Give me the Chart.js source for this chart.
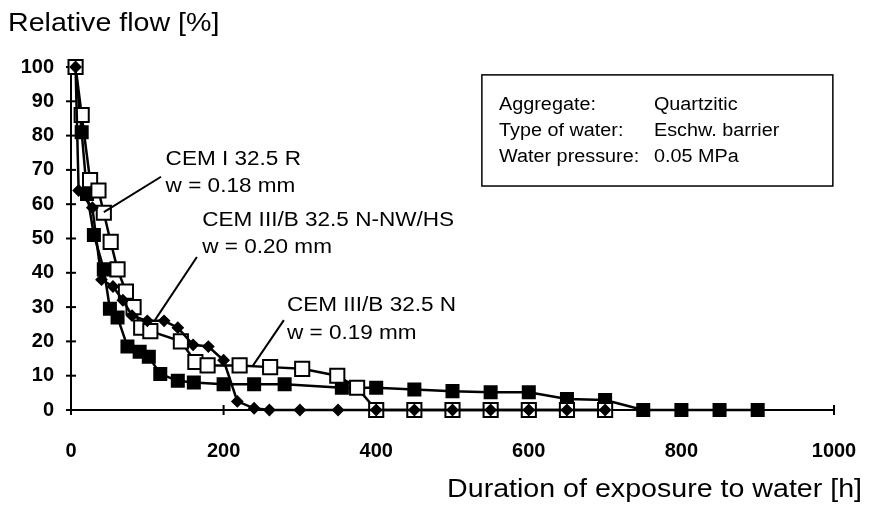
<!DOCTYPE html>
<html>
<head>
<meta charset="utf-8">
<script src="https://cdn.jsdelivr.net/npm/chart.js@4.4.0/dist/chart.umd.min.js"></script>
<style>
  html, body { margin: 0; padding: 0; background: #fff; }
</style>
</head>
<body>
<canvas id="chart" width="869" height="510"></canvas>
<script>
// exposure time [h] and relative flow [%] for each cement
const cemIHours = [6, 14, 25, 36, 43, 52, 61, 72, 82, 92, 104, 144, 163, 179, 221, 261, 303, 349, 375, 400, 450, 500, 550, 600, 650, 700]
const cemIFlow = [100, 86, 67, 64, 57.5, 49, 41, 34.5, 30, 24, 23, 20, 14, 13, 13, 12.5, 12, 10, 6.5, 0, 0, 0, 0, 0, 0, 0]

const cemIIINwHours = [6, 10, 28, 40, 55, 68, 80, 100, 122, 140, 160, 180, 200, 218, 240, 260, 300, 350, 400, 450, 500, 550, 600, 650, 700]
const cemIIINwFlow = [100, 64, 59, 38, 36, 32, 27.5, 26, 26, 24, 19, 18.5, 14.5, 2.5, 0.5, 0, 0, 0, 0, 0, 0, 0, 0, 0, 0]

const cemIIINHours = [6, 14, 21, 30, 43, 51, 61, 74, 90, 102, 117, 140, 161, 200, 240, 280, 355, 400, 450, 500, 550, 600, 650, 700, 750, 800, 850, 900]
const cemIIINFlow = [100, 81, 63, 51, 41, 29.5, 27, 18.5, 17, 15.5, 10.5, 8.5, 8, 7.5, 7.5, 7.5, 6.5, 6.5, 6, 5.5, 5.2, 5.2, 3.2, 2.9, 0, 0, 0, 0]

const xTicks = [0, 200, 400, 600, 800, 1000]
const yTicks = [0, 10, 20, 30, 40, 50, 60, 70, 80, 90, 100]

// curve labels: text lines, text anchor and leader line, all in data units
const curveLabels = [
    { lines: ['CEM I 32.5 R', 'w = 0.18 mm'], at: [124, 73.2, 65.3], leader: [118, 68, 43, 57.7] },
    { lines: ['CEM III/B 32.5 N-NW/HS', 'w = 0.20 mm'], at: [172, 55.4, 47.5], leader: [165, 44.6, 110, 26.2] },
    { lines: ['CEM III/B 32.5 N', 'w = 0.19 mm'], at: [283, 30.6, 22.4], leader: [279, 26.2, 238, 12.8] }
]
const infoRows = [['Aggregate:', 'Quartzitic'], ['Type of water:', 'Eschw. barrier'], ['Water pressure:', '0.05 MPa']]

const FONT = '"Liberation Sans", Arial, Helvetica, sans-serif'
const SX = 1.1 // text in the original is slightly wide

function toPoints(xs, ys) {
    return xs.map((x, i) => ({ x: x, y: ys[i] }))
}

function wideText(ctx, text, x, y) {
    ctx.save()
    ctx.translate(x, y)
    ctx.scale(SX, 1)
    ctx.fillText(text, 0, 0)
    ctx.restore()
}

const decorations = {
    id: 'decorations',
    beforeDatasetsDraw(chart) {
        const ctx = chart.ctx
        const xs = chart.scales.x
        const ys = chart.scales.y
        const y0 = ys.getPixelForValue(0)
        const x0 = xs.getPixelForValue(0)
        ctx.save()
        ctx.strokeStyle = '#000'
        ctx.lineWidth = 2
        // small crossing tick marks on both axes
        yTicks.forEach(v => {
            const py = ys.getPixelForValue(v)
            ctx.beginPath(); ctx.moveTo(x0 - 5, py); ctx.lineTo(x0 + 5, py); ctx.stroke()
        })
        xTicks.forEach(v => {
            const px = xs.getPixelForValue(v)
            ctx.beginPath(); ctx.moveTo(px, y0 - 5); ctx.lineTo(px, y0 + 5); ctx.stroke()
        })
        ctx.restore()
    },
    afterDraw(chart) {
        const ctx = chart.ctx
        const xs = chart.scales.x
        const ys = chart.scales.y
        ctx.save()
        ctx.fillStyle = '#000'
        ctx.strokeStyle = '#000'
        ctx.textBaseline = 'middle'

        // axis titles
        ctx.font = '26px ' + FONT
        ctx.textAlign = 'left'
        wideText(ctx, 'Relative flow [%]', 8, 24)
        ctx.textAlign = 'right'
        wideText(ctx, 'Duration of exposure to water [h]', 862, 490)

        // curve labels with leader lines
        ctx.font = '20.5px ' + FONT
        ctx.textAlign = 'left'
        ctx.lineWidth = 2
        curveLabels.forEach(lab => {
            const tx = xs.getPixelForValue(lab.at[0])
            wideText(ctx, lab.lines[0], tx, ys.getPixelForValue(lab.at[1]))
            wideText(ctx, lab.lines[1], tx, ys.getPixelForValue(lab.at[2]))
            ctx.beginPath()
            ctx.moveTo(xs.getPixelForValue(lab.leader[0]), ys.getPixelForValue(lab.leader[1]))
            ctx.lineTo(xs.getPixelForValue(lab.leader[2]), ys.getPixelForValue(lab.leader[3]))
            ctx.stroke()
        })

        // test conditions box
        const bx0 = xs.getPixelForValue(538.5)
        const bx1 = xs.getPixelForValue(998.5)
        const by0 = ys.getPixelForValue(97.7)
        const by1 = ys.getPixelForValue(65.3)
        ctx.lineWidth = 1.5
        ctx.strokeRect(bx0, by0, bx1 - bx0, by1 - by0)
        ctx.font = '18px ' + FONT
        const rowY = [88.9, 81.3, 73.8]
        infoRows.forEach((row, i) => {
            const py = ys.getPixelForValue(rowY[i])
            wideText(ctx, row[0], xs.getPixelForValue(561), py)
            wideText(ctx, row[1], xs.getPixelForValue(764), py)
        })
        ctx.restore()
    }
}

const lineStyle = {
    borderColor: '#000',
    borderWidth: 2.5,
    pointBorderColor: '#000',
    pointBorderWidth: 2,
    showLine: true,
    tension: 0,
    clip: false
}

const chart = new Chart(document.getElementById('chart'), {
    type: 'scatter',
    data: {
        datasets: [
            Object.assign({
                label: 'CEM III/B 32.5 N-NW/HS',
                data: toPoints(cemIIINwHours, cemIIINwFlow),
                pointStyle: 'rectRot',
                pointRadius: 5,
                pointBackgroundColor: '#000',
                order: 0
            }, lineStyle),
            Object.assign({
                label: 'CEM I 32.5 R',
                data: toPoints(cemIHours, cemIFlow),
                pointStyle: 'rect',
                pointRadius: 10,
                pointBackgroundColor: '#fff',
                order: 1
            }, lineStyle),
            Object.assign({
                label: 'CEM III/B 32.5 N',
                data: toPoints(cemIIINHours, cemIIINFlow),
                pointStyle: 'rect',
                pointRadius: 8.5,
                pointBackgroundColor: '#000',
                order: 2
            }, lineStyle)
        ]
    },
    options: {
        responsive: false,
        animation: false,
        layout: { padding: { top: 67, right: 35, left: 0, bottom: 0 } },
        plugins: { legend: { display: false }, tooltip: { enabled: false } },
        scales: {
            x: {
                type: 'linear',
                min: 0,
                max: 1000,
                afterFit: s => { s.height = 100; s.paddingLeft = 0; s.paddingRight = 0 },
                afterBuildTicks: s => { s.ticks = xTicks.map(v => ({ value: v })) },
                grid: { display: false },
                border: { display: true, color: '#000', width: 2 },
                ticks: { color: '#000', padding: 21, callback: v => String(v), font: { family: FONT, size: 20, weight: 'bold' } }
            },
            y: {
                type: 'linear',
                min: 0,
                max: 100,
                afterFit: s => { s.width = 71; s.paddingTop = 0; s.paddingBottom = 0 },
                afterBuildTicks: s => { s.ticks = yTicks.map(v => ({ value: v })) },
                grid: { display: false },
                border: { display: true, color: '#000', width: 2 },
                ticks: { color: '#000', padding: 9, font: { family: FONT, size: 20, weight: 'bold' } }
            }
        }
    },
    plugins: [decorations]
})
</script>
</body>
</html>
